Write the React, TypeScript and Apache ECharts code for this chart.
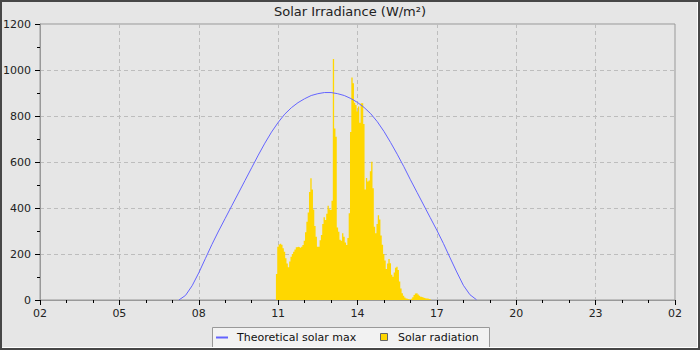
import React, { useEffect, useRef } from "react";
import * as echarts from "echarts";

// Theoretical solar max (W/m²), read every 15 minutes
const maxTimes = [
  "07:15", "07:30", "07:45", "08:00", "08:15", "08:30", "08:45", "09:00", "09:15", "09:30",
  "09:45", "10:00", "10:15", "10:30", "10:45", "11:00", "11:15", "11:30", "11:45", "12:00",
  "12:15", "12:30", "12:45", "13:00", "13:15", "13:30", "13:45", "14:00", "14:15", "14:30",
  "14:45", "15:00", "15:15", "15:30", "15:45", "16:00", "16:15", "16:30", "16:45", "17:00",
  "17:15", "17:30", "17:45", "18:00", "18:15", "18:30",
];
const maxValues = [
  0, 20, 62, 118, 180, 242, 300, 355, 410, 465,
  520, 575, 630, 682, 730, 772, 808, 836, 858, 875,
  889, 897, 902, 902, 897, 889, 876, 859, 837, 810,
  775, 733, 685, 634, 580, 523, 468, 413, 358, 303,
  245, 183, 122, 64, 23, 1,
];

// Measured solar radiation (W/m²), one reading every 3 minutes from 10:55
const radStart = "10:55";
const radStepMin = 3;
const radValues = [
  113, 232, 241, 245, 240, 225, 210, 181, 159, 142,
  167, 188, 200, 210, 220, 229, 231, 229, 226, 232,
  239, 258, 295, 340, 380, 470, 529, 480, 394, 322,
  275, 232, 232, 260, 283, 330, 360, 348, 375, 410,
  395, 391, 432, 1048, 746, 710, 315, 297, 262, 258,
  290, 275, 250, 239, 270, 377, 730, 967, 942, 858,
  848, 820, 841, 771, 855, 855, 765, 480, 530, 515,
  520, 560, 601, 486, 319, 290, 330, 368, 350, 280,
  240, 200, 172, 135, 159, 178, 160, 110, 101, 120,
  140, 145, 130, 80, 50, 29, 18, 11, 7, 4,
  2, 0, 5, 12, 22, 28, 30, 24, 18, 14,
  12, 10, 8, 7, 6, 4, 3, 0,
];

const xTicks = [2, 5, 8, 11, 14, 17, 20, 23, 26];
const yMax = 1200;
const yStep = 200;

const seriesNames = ["Theoretical solar max", "Solar radiation"];
const FONT = "DejaVu Sans";

function toHours(t: string): number {
  const [h, m] = t.split(":").map(Number);
  return h + m / 60;
}

export default function App() {
  const ref = useRef<HTMLDivElement>(null);

  useEffect(() => {
    if (!ref.current) return;
    const chart = echarts.init(ref.current, undefined, { renderer: "svg" });

    const maxData = maxTimes.map((t, i) => [toHours(t), maxValues[i]]);
    const start = toHours(radStart);
    const radData = radValues.map((v, i) => [start + (i * radStepMin) / 60, v]);

    chart.setOption({
      animation: false,
      backgroundColor: "#e6e6e6",
      textStyle: { fontFamily: FONT },
      title: {
        text: "Solar Irradiance (W/m²)",
        left: "center",
        top: 5,
        padding: 0,
        textStyle: { fontFamily: FONT, fontSize: 13, fontWeight: "normal", color: "#222" },
      },
      grid: {
        left: 40,
        right: 25,
        top: 24,
        bottom: 50,
        show: true,
        borderColor: "#999",
        borderWidth: 1,
        backgroundColor: "transparent",
        containLabel: false,
      },
      xAxis: {
        type: "value",
        min: xTicks[0],
        max: xTicks[xTicks.length - 1],
        interval: 3,
        axisLine: { show: true, lineStyle: { color: "#999", width: 1 } },
        axisTick: { show: true, length: 5, lineStyle: { color: "#000" } },
        minorTick: { show: true, splitNumber: 3, length: 3, lineStyle: { color: "#000" } },
        axisLabel: {
          margin: 8,
          fontSize: 11,
          fontFamily: FONT,
          color: "#222",
          formatter: (v: number) => String(Math.round(v) % 24).padStart(2, "0"),
        },
        splitLine: {
          show: true,
          showMinLine: false,
          showMaxLine: false,
          lineStyle: { color: "#bdbdbd", type: [4, 3], width: 1 },
        },
      },
      yAxis: {
        type: "value",
        min: 0,
        max: yMax,
        interval: yStep,
        axisLine: { show: true, lineStyle: { color: "#999", width: 1 } },
        axisTick: { show: true, length: 5, lineStyle: { color: "#000" } },
        minorTick: { show: true, splitNumber: 2, length: 3, lineStyle: { color: "#000" } },
        axisLabel: {
          margin: 9,
          fontSize: 11,
          fontFamily: FONT,
          color: "#222",
          formatter: (v: number) => String(v),
        },
        splitLine: {
          show: true,
          showMinLine: false,
          showMaxLine: false,
          lineStyle: { color: "#bdbdbd", type: [4, 3], width: 1 },
        },
      },
      series: [
        {
          name: seriesNames[1],
          type: "line",
          step: "end",
          data: radData,
          showSymbol: false,
          symbol: "none",
          lineStyle: { width: 0, color: "#ffd700" },
          areaStyle: { color: "#ffd700", opacity: 1 },
          z: 2,
        },
        {
          name: seriesNames[0],
          type: "line",
          data: maxData,
          showSymbol: false,
          symbol: "none",
          smooth: false,
          lineStyle: { width: 1, color: "#6464ff" },
          z: 3,
        },
      ],
      graphic: [
        {
          type: "rect",
          z: 100,
          shape: { x: 1, y: 1, width: 698, height: 348 },
          style: { fill: "none", stroke: "#474747", lineWidth: 2 },
        },
        {
          type: "polyline",
          z: 100,
          shape: { points: [[697.5, 2], [697.5, 347.5], [2, 347.5]] },
          style: { fill: "none", stroke: "#ffffff", lineWidth: 1 },
        },
        {
          type: "rect",
          z: 90,
          shape: { x: 212.5, y: 327.5, width: 277, height: 24 },
          style: { fill: "#f2f2f2", stroke: "#999", lineWidth: 1 },
        },
        {
          type: "line",
          z: 91,
          shape: { x1: 216, y1: 337.5, x2: 228, y2: 337.5 },
          style: { stroke: "#6464ff", lineWidth: 2 },
        },
        {
          type: "text",
          z: 91,
          x: 237,
          y: 337.5,
          style: {
            text: seriesNames[0],
            fontSize: 11,
            fontFamily: FONT,
            fill: "#111",
            verticalAlign: "middle",
            align: "left",
          },
        },
        {
          type: "rect",
          z: 91,
          shape: { x: 380.5, y: 333.5, width: 7, height: 7 },
          style: { fill: "#ffd700", stroke: "#666", lineWidth: 1 },
        },
        {
          type: "text",
          z: 91,
          x: 398,
          y: 337.5,
          style: {
            text: seriesNames[1],
            fontSize: 11,
            fontFamily: FONT,
            fill: "#111",
            verticalAlign: "middle",
            align: "left",
          },
        },
      ],
    });

    return () => chart.dispose();
  }, []);

  return (
    <div
      ref={ref}
      style={{ position: "absolute", left: 0, top: 0, width: 700, height: 350 }}
    />
  );
}
